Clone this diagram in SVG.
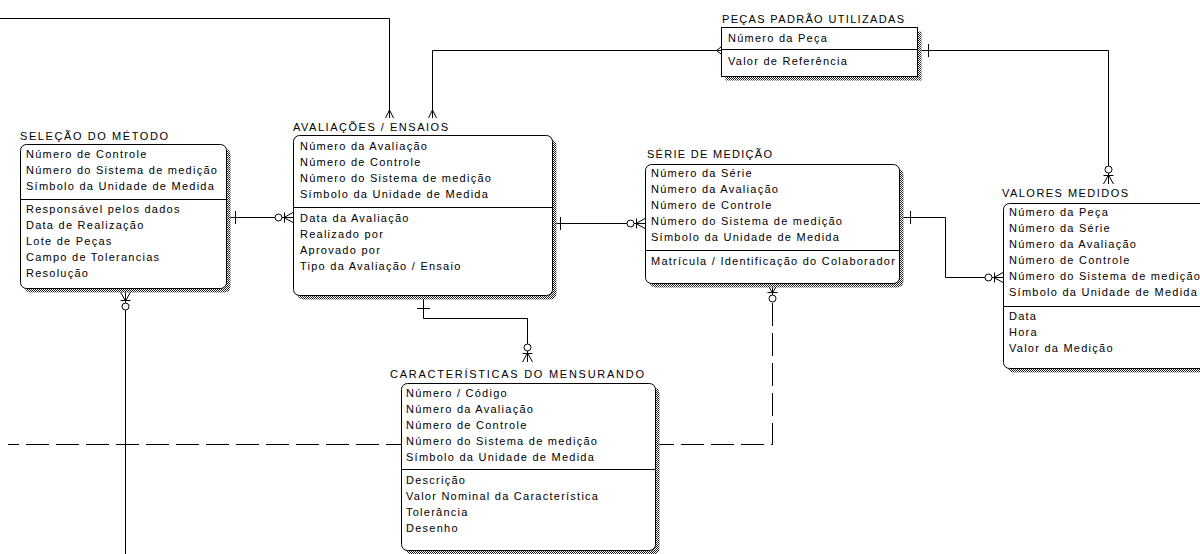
<svg xmlns="http://www.w3.org/2000/svg" width="1200" height="554" viewBox="0 0 1200 554">
<defs>
<style>
.t{font-family:"Liberation Sans",Arial,sans-serif;font-size:11px;letter-spacing:1.25px;fill:#000}
.h{font-family:"Liberation Sans",Arial,sans-serif;font-size:11px;fill:#000}
.box{fill:#fff;stroke:#000;stroke-width:1}
.shd{fill:url(#stip);stroke:none}
.div{stroke:#000;stroke-width:1}
.c{fill:none;stroke:#000;stroke-width:1}
.d{fill:none;stroke:#000;stroke-width:1;stroke-dasharray:23 7}
</style>
<!-- stippled drop shadow -->
<pattern id="stip" width="2" height="2" patternUnits="userSpaceOnUse">
<rect width="2" height="2" fill="#fff"/>
<rect width="1" height="1" fill="#222"/>
<rect x="1" y="1" width="1" height="1" fill="#222"/>
</pattern>
<!-- zero-or-many end: attach point at origin, line arriving from -y -->
<g id="zm" fill="none" stroke="#000" stroke-width="1">
<line x1="0" y1="-11" x2="0" y2="0"/>
<circle cx="0" cy="-14.5" r="3.5" fill="#fff"/>
<line x1="-5" y1="-8.5" x2="5" y2="-8.5"/>
<path d="M-5,0 L0,-9 L5,0"/>
</g>
<!-- many end -->
<g id="cm" fill="none" stroke="#000" stroke-width="1">
<path d="M-4,0 L0,-8 L4,0"/>
</g>
</defs>

<rect width="1200" height="554" fill="#fff"/>

<!-- relationships -->
<g id="connectors">
<path class="c" d="M0,18.5 H389.5 V118"/>
<path class="c" d="M721,50.5 H432.5 V118"/>
<path class="c" d="M721,47 L716.5,50.5 L721,54"/>
<path class="c" d="M921,50.5 H1108.5 V184"/>
<path class="c" d="M928.5,44 V57"/>
<path class="c" d="M229,217.5 H293"/>
<path class="c" d="M235.5,211 V224"/>
<path class="c" d="M556,223.5 H645"/>
<path class="c" d="M560.5,217 V230"/>
<path class="c" d="M903,217.5 H945.5 V277.5 H1003"/>
<path class="c" d="M910.5,211 V224"/>
<path class="c" d="M423.5,299 V318.5 H527.5 V362"/>
<path class="c" d="M417,308.5 H430"/>
<path class="d" d="M772.5,303 V444.5 H659"/>
<path class="c" d="M125.5,292 V554"/>
<path class="d" d="M8,444.5 H401" stroke-dashoffset="12"/>
<use href="#cm" transform="translate(389.5,118)"/>
<use href="#cm" transform="translate(432.5,118)"/>
<use href="#zm" transform="translate(1108.5,184)"/>
<use href="#zm" transform="translate(293,217.5) rotate(-90)"/>
<use href="#zm" transform="translate(645,223.5) rotate(-90)"/>
<use href="#zm" transform="translate(1003,277.5) rotate(-90)"/>
<use href="#zm" transform="translate(527.5,362)"/>
<use href="#zm" transform="translate(772.5,284) rotate(180)"/>
<use href="#zm" transform="translate(125.5,292) rotate(180)"/>
</g>

<g id="pecas-padrao">
<text class="h" x="722" y="23" textLength="182" lengthAdjust="spacing">PEÇAS PADRÃO UTILIZADAS</text>
<rect class="shd" x="725.5" y="31.5" width="196" height="49"/>
<rect class="box" x="721.5" y="27.5" width="196" height="49"/>
<line class="div" x1="721.5" y1="49.5" x2="917.5" y2="49.5"/>
<text class="t" x="728" y="42">Número da Peça</text>
<text class="t" x="728" y="65">Valor de Referência</text>
</g>

<g id="selecao-metodo">
<text class="h" x="20" y="140" textLength="148" lengthAdjust="spacing">SELEÇÃO DO MÉTODO</text>
<rect class="shd" x="24.5" y="148.5" width="206" height="144" rx="6"/>
<rect class="box" x="20.5" y="144.5" width="206" height="144" rx="6"/>
<line class="div" x1="20.5" y1="199.5" x2="226.5" y2="199.5"/>
<text class="t" x="26" y="158">Número de Controle</text>
<text class="t" x="26" y="174">Número do Sistema de medição</text>
<text class="t" x="26" y="190">Símbolo da Unidade de Medida</text>
<text class="t" x="26" y="213">Responsável pelos dados</text>
<text class="t" x="26" y="229">Data de Realização</text>
<text class="t" x="26" y="245">Lote de Peças</text>
<text class="t" x="26" y="261">Campo de Tolerancias</text>
<text class="t" x="26" y="277">Resolução</text>
</g>

<g id="avaliacoes-ensaios">
<text class="h" x="293" y="131" textLength="155" lengthAdjust="spacing">AVALIAÇÕES / ENSAIOS</text>
<rect class="shd" x="297.5" y="139.5" width="259" height="160" rx="6"/>
<rect class="box" x="293.5" y="135.5" width="259" height="160" rx="6"/>
<line class="div" x1="293.5" y1="207.5" x2="552.5" y2="207.5"/>
<text class="t" x="300" y="150">Número da Avaliação</text>
<text class="t" x="300" y="166">Número de Controle</text>
<text class="t" x="300" y="182">Número do Sistema de medição</text>
<text class="t" x="300" y="198">Símbolo da Unidade de Medida</text>
<text class="t" x="300" y="222">Data da Avaliação</text>
<text class="t" x="300" y="238">Realizado por</text>
<text class="t" x="300" y="254">Aprovado por</text>
<text class="t" x="300" y="270">Tipo da Avaliação / Ensaio</text>
</g>

<g id="serie-medicao">
<text class="h" x="647" y="158" textLength="125" lengthAdjust="spacing">SÉRIE DE MEDIÇÃO</text>
<rect class="shd" x="649.5" y="168.5" width="254" height="119" rx="6"/>
<rect class="box" x="645.5" y="164.5" width="254" height="119" rx="6"/>
<line class="div" x1="645.5" y1="250.5" x2="899.5" y2="250.5"/>
<text class="t" x="651" y="177">Número da Série</text>
<text class="t" x="651" y="193">Número da Avaliação</text>
<text class="t" x="651" y="209">Número de Controle</text>
<text class="t" x="651" y="225">Número do Sistema de medição</text>
<text class="t" x="651" y="241">Símbolo da Unidade de Medida</text>
<text class="t" x="651" y="265">Matrícula / Identificação do Colaborador</text>
</g>

<g id="valores-medidos">
<text class="h" x="1002" y="197" textLength="126" lengthAdjust="spacing">VALORES MEDIDOS</text>
<rect class="shd" x="1007.5" y="207.5" width="220" height="165" rx="6"/>
<rect class="box" x="1003.5" y="203.5" width="220" height="165" rx="6"/>
<line class="div" x1="1003.5" y1="306.5" x2="1200" y2="306.5"/>
<text class="t" x="1009" y="216">Número da Peça</text>
<text class="t" x="1009" y="232">Número da Série</text>
<text class="t" x="1009" y="248">Número da Avaliação</text>
<text class="t" x="1009" y="264">Número de Controle</text>
<text class="t" x="1009" y="280">Número do Sistema de medição</text>
<text class="t" x="1009" y="296">Símbolo da Unidade de Medida</text>
<text class="t" x="1009" y="320">Data</text>
<text class="t" x="1009" y="336">Hora</text>
<text class="t" x="1009" y="352">Valor da Medição</text>
</g>

<g id="caracteristicas-mensurando">
<text class="h" x="390" y="378" textLength="254" lengthAdjust="spacing">CARACTERÍSTICAS DO MENSURANDO</text>
<rect class="shd" x="405.5" y="387.5" width="254" height="167" rx="6"/>
<rect class="box" x="401.5" y="383.5" width="254" height="167" rx="6"/>
<line class="div" x1="401.5" y1="469.5" x2="655.5" y2="469.5"/>
<text class="t" x="406" y="397">Número / Código</text>
<text class="t" x="406" y="413">Número da Avaliação</text>
<text class="t" x="406" y="429">Número de Controle</text>
<text class="t" x="406" y="445">Número do Sistema de medição</text>
<text class="t" x="406" y="461">Símbolo da Unidade de Medida</text>
<text class="t" x="406" y="484">Descrição</text>
<text class="t" x="406" y="500">Valor Nominal da Característica</text>
<text class="t" x="406" y="516">Tolerância</text>
<text class="t" x="406" y="532">Desenho</text>
</g>
</svg>
